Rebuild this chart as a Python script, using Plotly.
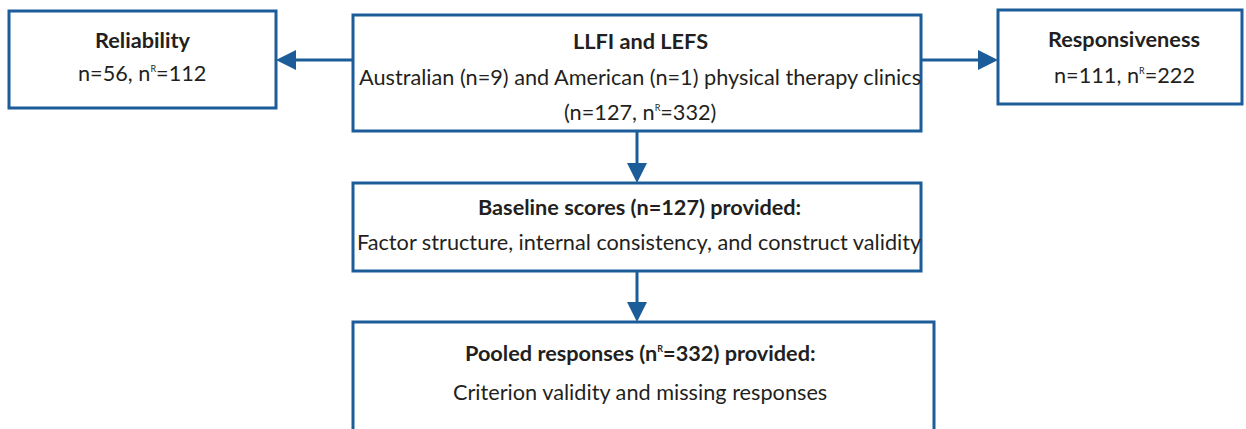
import plotly.graph_objects as go

# ---- content ----
SUPR = "<sup><span style='font-size:9px'>R</span></sup>"
box_titles = ["Reliability", "LLFI and LEFS", "Responsiveness",
              "Baseline scores (n=127) provided:", f"Pooled responses (n{SUPR}=332) provided:"]
box_lines = [
    [f"n=56, n{SUPR}=112"],
    ["Australian (n=9) and American (n=1) physical therapy clinics", f"(n=127, n{SUPR}=332)"],
    [f"n=111, n{SUPR}=222"],
    ["Factor structure, internal consistency, and construct validity"],
    ["Criterion validity and missing responses"],
]

# ---- layout (pixels) ----
W, H = 1246, 429
boxes = [  # x0, x1, y0, y1
    (9, 276, 11, 108),
    (353, 921, 15, 131),
    (998, 1242, 10, 104),
    (353, 921, 183, 271),
    (353, 934, 322, 445),
]
title_y = [40, 41, 39, 207, 353]
line_ys = [[73], [77, 112], [75], [242], [392]]
text_cx = [142, 640, 1124, 639, 640]

# arrows: (x_start, y_start, x_tip, y_tip)
arrows = [
    (353, 60, 276, 60),
    (921, 60, 998, 60),
    (637, 131, 637, 183),
    (637, 271, 637, 322),
]

BLUE = "#1b5c99"
TXT = "#231f20"
FONT = "Lato"
FS = 21.7
LW = 3

fig = go.Figure()
fig.add_trace(go.Scatter(x=[0, W], y=[0, H], mode="markers",
                         marker=dict(opacity=0), hoverinfo="skip", showlegend=False))

shapes = []
for (x0, x1, y0, y1) in boxes:
    shapes.append(dict(type="rect", x0=x0, x1=x1, y0=y0, y1=y1, xref="x", yref="y",
                       line=dict(color=BLUE, width=LW), fillcolor="rgba(0,0,0,0)"))

AH = 20  # arrowhead length
AW = 10  # half-width
for (xs, ys, xt, yt) in arrows:
    if ys == yt:
        d = 1 if xt > xs else -1
        xb = xt - d * AH
        shapes.append(dict(type="line", x0=xs, y0=ys, x1=xb, y1=yt, xref="x", yref="y",
                           line=dict(color=BLUE, width=LW)))
        shapes.append(dict(type="path", xref="x", yref="y",
                           path=f"M {xt} {yt} L {xb} {yt-AW} L {xb} {yt+AW} Z",
                           fillcolor=BLUE, line=dict(color=BLUE, width=0)))
    else:
        yb = yt - AH
        shapes.append(dict(type="line", x0=xs, y0=ys, x1=xt, y1=yb, xref="x", yref="y",
                           line=dict(color=BLUE, width=LW)))
        shapes.append(dict(type="path", xref="x", yref="y",
                           path=f"M {xt} {yt} L {xt-AW} {yb} L {xt+AW} {yb} Z",
                           fillcolor=BLUE, line=dict(color=BLUE, width=0)))

annots = []
for i, t in enumerate(box_titles):
    annots.append(dict(x=text_cx[i], y=title_y[i], xref="x", yref="y", text=f"<b>{t}</b>",
                       showarrow=False, xanchor="center", yanchor="middle",
                       font=dict(family=FONT, size=FS, color=TXT)))
    for ln, yy in zip(box_lines[i], line_ys[i]):
        annots.append(dict(x=text_cx[i], y=yy, xref="x", yref="y", text=ln,
                           showarrow=False, xanchor="center", yanchor="middle",
                           font=dict(family=FONT, size=FS, color=TXT)))

fig.update_layout(
    width=W, height=H, margin=dict(l=0, r=0, t=0, b=0),
    paper_bgcolor="white", plot_bgcolor="white",
    xaxis=dict(range=[0, W], visible=False, fixedrange=True),
    yaxis=dict(range=[H, 0], visible=False, fixedrange=True),
    shapes=shapes, annotations=annots, showlegend=False,
)
fig.write_html("out.html", config={"displayModeBar": False},
               post_script="document.body.style.margin='0px';document.body.style.overflow='hidden';")
